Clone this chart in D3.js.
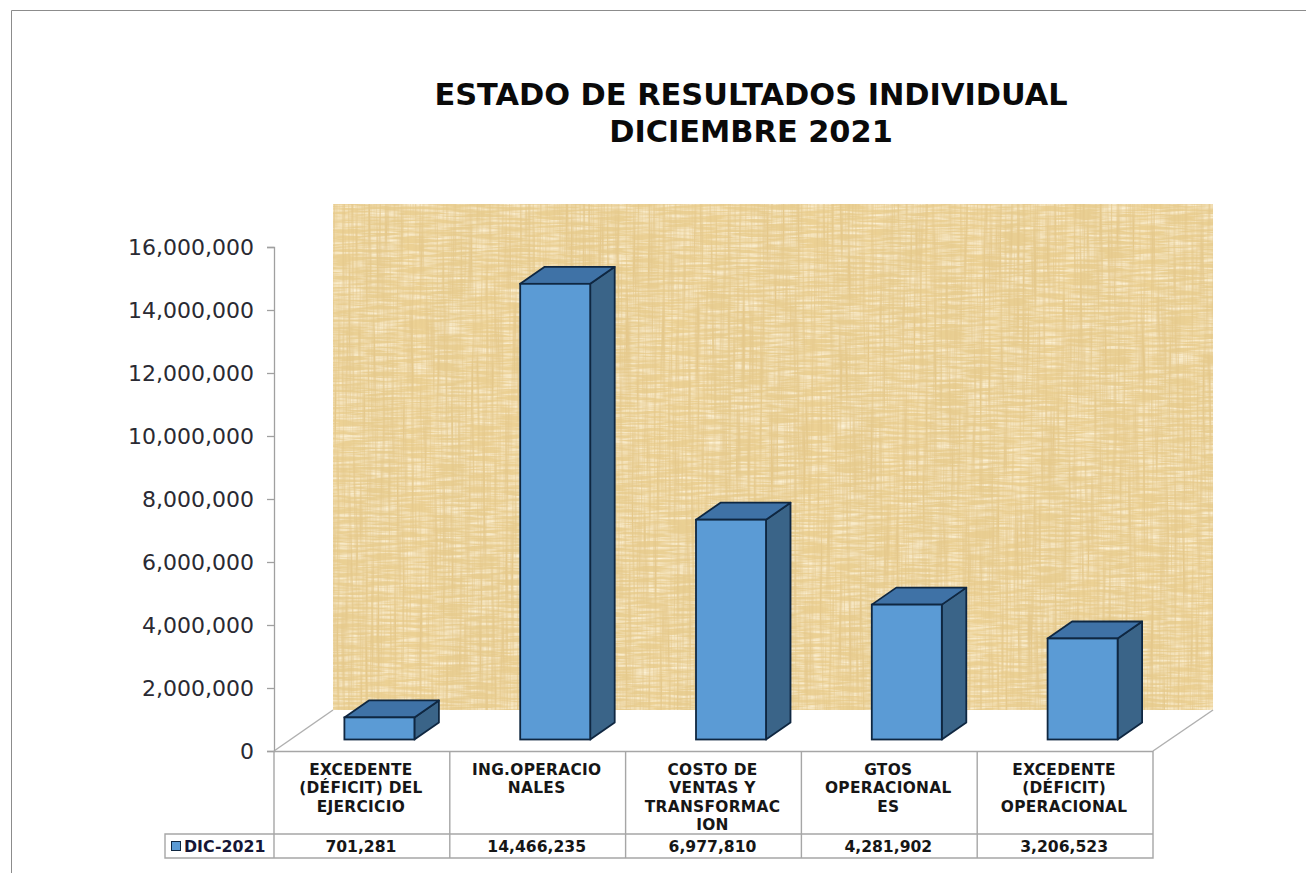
<!DOCTYPE html>
<html><head><meta charset="utf-8">
<script src="https://cdnjs.cloudflare.com/ajax/libs/d3/7.8.5/d3.min.js"></script>
<style>html,body{margin:0;padding:0;background:#fff;overflow:hidden}svg{display:block}</style>
</head><body><div id="chart"></div>
<script>
const titleLines = ["ESTADO DE RESULTADOS INDIVIDUAL", "DICIEMBRE 2021"];
const categoryLines = [
  ["EXCEDENTE", "(DÉFICIT) DEL", "EJERCICIO"],
  ["ING.OPERACIO", "NALES"],
  ["COSTO DE", "VENTAS Y", "TRANSFORMAC", "ION"],
  ["GTOS", "OPERACIONAL", "ES"],
  ["EXCEDENTE", "(DÉFICIT)", "OPERACIONAL"]
];
const seriesName = "DIC-2021";
const values = [701281, 14466235, 6977810, 4281902, 3206523];
const yTicks = [0, 2000000, 4000000, 6000000, 8000000, 10000000, 12000000, 14000000, 16000000];

const W = 1306, H = 873;
const svg = d3.select("#chart").append("svg").attr("width", W).attr("height", H);
const SANS = "'DejaVu Sans', Verdana, sans-serif";

const left = 274, right = 1153, base = 751, top16 = 247;
const wallDx = 59, wallDy = 41, wallTop = 204;
const y = d3.scaleLinear().domain([0, 16000000]).range([base, top16]);
const x = d3.scaleBand().domain(d3.range(values.length)).range([left, right]).paddingInner(0).paddingOuter(0);
const barW = 70, depthX = 24.5, depthY = 17, barLift = 11.5, barShift = 17.5;

const defs = svg.append("defs");
const f = defs.append("filter").attr("id", "paper").attr("x", 0).attr("y", 0).attr("width", 1).attr("height", 1);
f.append("feTurbulence").attr("type", "fractalNoise").attr("baseFrequency", "0.35 0.01").attr("numOctaves", 3).attr("seed", 4).attr("result", "v");
f.append("feColorMatrix").attr("in", "v").attr("type", "matrix")
  .attr("values", "0 0 0 0 0.78  0 0 0 0 0.58  0 0 0 0 0.26  2.4 0 0 0 -0.95").attr("result", "vc");
f.append("feTurbulence").attr("type", "fractalNoise").attr("baseFrequency", "0.03 0.4").attr("numOctaves", 3).attr("seed", 9).attr("result", "h");
f.append("feColorMatrix").attr("in", "h").attr("type", "matrix")
  .attr("values", "0 0 0 0 0.98  0 0 0 0 0.89  0 0 0 0 0.68  2.0 0 0 0 -0.8").attr("result", "hc");
f.append("feTurbulence").attr("type", "fractalNoise").attr("baseFrequency", "0.025 0.004").attr("numOctaves", 2).attr("seed", 2).attr("result", "b");
f.append("feColorMatrix").attr("in", "b").attr("type", "matrix")
  .attr("values", "0 0 0 0 0.84  0 0 0 0 0.64  0 0 0 0 0.30  4 0 0 0 -1.6").attr("result", "bc");
const m = f.append("feMerge");
m.append("feMergeNode").attr("in", "SourceGraphic");
m.append("feMergeNode").attr("in", "bc");
m.append("feMergeNode").attr("in", "hc");
m.append("feMergeNode").attr("in", "vc");

// frame
svg.append("path").attr("d", `M11.5,${H} V10.5 H${W}`).attr("fill", "none").attr("stroke", "#8c8c8c");

// back wall
svg.append("rect").attr("x", left + wallDx).attr("y", wallTop)
  .attr("width", right - left + 1).attr("height", base - wallDy - wallTop)
  .attr("fill", "#e9cf93").attr("filter", "url(#paper)");

// floor
svg.append("path")
  .attr("d", d3.line()([[left, base], [left + wallDx, base - wallDy], [right + wallDx + 1, base - wallDy], [right, base]]))
  .attr("fill", "#fff").attr("stroke", "none");
svg.append("path").attr("d", d3.line()([[left, base], [left + wallDx, base - wallDy]])).attr("stroke", "#b0b0b0").attr("fill", "none").attr("stroke-width", 1.5);
svg.append("path").attr("d", d3.line()([[right, base], [right + wallDx + 1, base - wallDy]])).attr("stroke", "#b0b0b0").attr("fill", "none").attr("stroke-width", 1.5);

// axis
const axis = d3.axisLeft(y).tickValues(yTicks).tickFormat(d3.format(",")).tickSize(7).tickPadding(13);
const ax = svg.append("g").attr("transform", `translate(${left},0)`).call(axis);
ax.select(".domain").attr("stroke", "#a0a0a0").attr("stroke-width", 1.3).attr("d", `M-7,${top16 + .5}H0.5V${base + .5}H-7`);
ax.selectAll(".tick line").attr("stroke", "#a0a0a0").attr("stroke-width", 1.3);
ax.selectAll("text").attr("font-family", SANS).attr("font-size", 22).attr("fill", "#2a2a33");

// bars
const barColor = { front: "#5b9bd5", top: "#3f72a6", side: "#3a6488", stroke: "#0f2741" };
const bars = svg.append("g").selectAll("g").data(values).join("g");
const bx = (d, i) => x(i) + (x.bandwidth() - barW) / 2 + barShift;
const fy = d => y(d) - barLift;
const by = base - barLift;
bars.append("path").attr("fill", barColor.side).attr("stroke", barColor.stroke).attr("stroke-width", 1.8).attr("stroke-linejoin", "round")
  .attr("d", (d, i) => { const X = bx(d, i) + barW; return d3.line()([[X, by], [X + depthX, by - depthY], [X + depthX, fy(d) - depthY], [X, fy(d)]]) + "Z"; });
bars.append("path").attr("fill", barColor.top).attr("stroke", barColor.stroke).attr("stroke-width", 1.8).attr("stroke-linejoin", "round")
  .attr("d", (d, i) => { const X = bx(d, i); return d3.line()([[X, fy(d)], [X + depthX, fy(d) - depthY], [X + barW + depthX, fy(d) - depthY], [X + barW, fy(d)]]) + "Z"; });
bars.append("rect").attr("fill", barColor.front).attr("stroke", barColor.stroke).attr("stroke-width", 1.8)
  .attr("x", (d, i) => bx(d, i)).attr("y", d => fy(d)).attr("width", barW).attr("height", d => by - fy(d));

// data table
const tableMid = 834, tableBottom = 858, legendLeft = 165;
const gridStroke = "#a6a6a6";
const grid = svg.append("g").attr("stroke", gridStroke).attr("stroke-width", 1.4).attr("fill", "none");
grid.append("path").attr("d", `M${left},${base + .5}H${right}V${tableBottom}H${legendLeft}V${tableMid}H${right}`);
x.domain().forEach(i => grid.append("path").attr("d", `M${x(i)},${base}V${tableBottom}`));

const catLineH = 18.5;
categoryLines.forEach((lines, i) => {
  svg.append("text").attr("text-anchor", "middle").attr("font-family", SANS).attr("font-weight", 700)
    .attr("font-size", 15.4).attr("letter-spacing", 0.3).attr("fill", "#161616")
    .selectAll("tspan").data(lines).join("tspan")
    .attr("x", x(i) + x.bandwidth() / 2 - 1).attr("y", (d, k) => 774.5 + k * catLineH).text(d => d);
});
svg.append("g").selectAll("text").data(values).join("text")
  .attr("x", (d, i) => x(i) + x.bandwidth() / 2 - 1).attr("y", 851.5).attr("text-anchor", "middle")
  .attr("font-family", SANS).attr("font-weight", 700).attr("font-size", 15.6).attr("fill", "#161616")
  .text(d3.format(","));

// legend key
svg.append("rect").attr("x", 171.5).attr("y", 841.5).attr("width", 9).attr("height", 9)
  .attr("fill", barColor.front).attr("stroke", barColor.stroke);
svg.append("text").attr("x", 184).attr("y", 851.5).attr("font-family", SANS).attr("font-weight", 700)
  .attr("font-size", 15.8).attr("fill", "#161636").text(seriesName);

// title
svg.append("text").attr("text-anchor", "middle").attr("font-family", SANS).attr("font-weight", 700)
  .attr("font-size", 30.4).attr("fill", "#0a0a0a")
  .selectAll("tspan").data(titleLines).join("tspan")
  .attr("x", 751).attr("y", (d, k) => 105 + k * 37).text(d => d);
</script></body></html>
